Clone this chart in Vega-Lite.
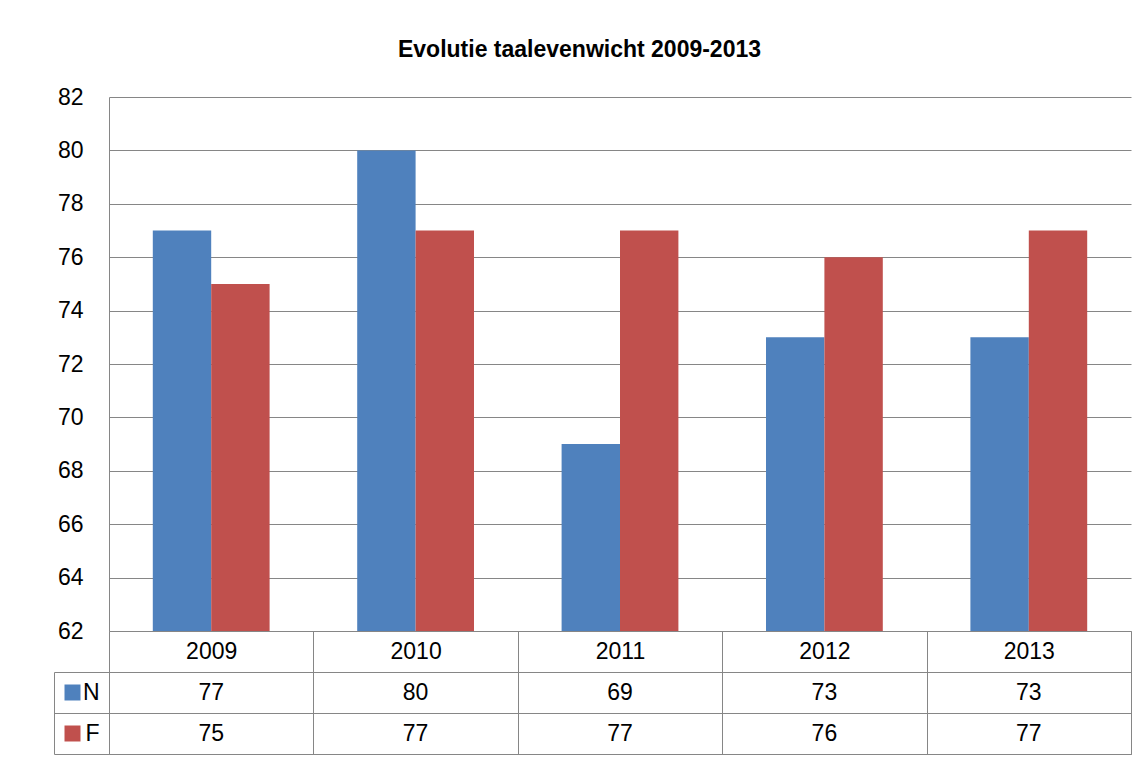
{
  "$schema": "https://vega.github.io/schema/vega-lite/v6.json",
  "background": "white",
  "padding": {"left": 53, "top": 39, "right": 17, "bottom": 4},
  "title": {
    "text": "Evolutie taalevenwicht 2009-2013",
    "font": "Liberation Sans",
    "fontSize": 23,
    "fontWeight": "bold",
    "color": "#000000",
    "anchor": "middle",
    "dx": -13,
    "offset": 24
  },
  "data": {
    "values": [
      {"year": "2009", "series": "N", "value": 77},
      {"year": "2009", "series": "F", "value": 75},
      {"year": "2010", "series": "N", "value": 80},
      {"year": "2010", "series": "F", "value": 77},
      {"year": "2011", "series": "N", "value": 69},
      {"year": "2011", "series": "F", "value": 77},
      {"year": "2012", "series": "N", "value": 73},
      {"year": "2012", "series": "F", "value": 76},
      {"year": "2013", "series": "N", "value": 73},
      {"year": "2013", "series": "F", "value": 77}
    ]
  },
  "bounds": "flush",
  "spacing": 41,
  "vconcat": [
    {
      "width": 1022,
      "height": 534,
      "mark": {"type": "bar", "clip": true},
      "encoding": {
        "x": {
          "field": "year", "type": "nominal",
          "scale": {"paddingInner": 0, "paddingOuter": 0},
          "axis": {"labels": false, "ticks": false, "domain": true, "domainColor": "#868686", "title": null, "grid": false}
        },
        "xOffset": {
          "field": "series", "type": "nominal", "sort": ["N", "F"],
          "scale": {"paddingInner": 0, "paddingOuter": 0.75}
        },
        "y": {
          "field": "value", "type": "quantitative",
          "scale": {"domain": [62, 82], "zero": false, "nice": false},
          "axis": {
            "values": [62, 64, 66, 68, 70, 72, 74, 76, 78, 80, 82],
            "title": null, "ticks": false,
            "domainColor": "#868686",
            "gridColor": "#868686", "gridOpacity": 1,
            "labelFont": "Liberation Sans", "labelFontSize": 23, "labelColor": "#000000",
            "labelPadding": 26
          }
        },
        "color": {
          "field": "series", "type": "nominal",
          "scale": {"domain": ["N", "F"], "range": ["#4F81BD", "#C0504D"]},
          "legend": null
        }
      }
    },
    {
      "width": 1022,
      "height": 82,
      "view": {"stroke": "#868686"},
      "layer": [
        {
          "mark": {"type": "text", "fontSize": 23, "font": "Liberation Sans", "color": "#000000"},
          "encoding": {
            "x": {
              "field": "year", "type": "nominal",
              "scale": {"paddingInner": 0, "paddingOuter": 0},
              "axis": {
                "orient": "top", "title": null, "tickBand": "extent", "tickSize": 41,
                "tickColor": "#868686", "domainColor": "#868686",
                "grid": true, "gridColor": "#868686", "gridOpacity": 1,
                "labelFont": "Liberation Sans", "labelFontSize": 23, "labelColor": "#000000",
                "labelBaseline": "middle", "labelPadding": -20, "labelAngle": 0
              }
            },
            "y": {
              "field": "series", "type": "nominal", "sort": ["N", "F"],
              "scale": {"paddingInner": 0, "paddingOuter": 0},
              "axis": {
                "title": null, "offset": 55, "tickBand": "extent", "tickSize": -55,
                "tickColor": "#868686", "domainColor": "#868686",
                "grid": true, "gridColor": "#868686", "gridOpacity": 1,
                "labelFont": "Liberation Sans", "labelFontSize": 23, "labelColor": "#000000",
                "labelPadding": 10, "labelAlign": "right"
              }
            },
            "text": {"field": "value", "type": "quantitative"}
          }
        },
        {
          "mark": {"type": "text", "opacity": 0},
          "encoding": {
            "y": {
              "field": "series", "type": "nominal", "sort": ["N", "F"],
              "axis": {
                "orient": "left", "title": null, "offset": 29,
                "labels": false, "domain": false, "grid": false,
                "ticks": true, "tickSize": 16, "tickWidth": 16, "tickCap": "butt",
                "tickColor": {"condition": {"test": "datum.value === 'N'", "value": "#4F81BD"}, "value": "#C0504D"}
              }
            },
            "text": {"field": "value", "type": "quantitative"}
          }
        }
      ],
      "resolve": {"axis": {"y": "independent"}}
    }
  ],
  "config": {"view": {"stroke": null}}
}
